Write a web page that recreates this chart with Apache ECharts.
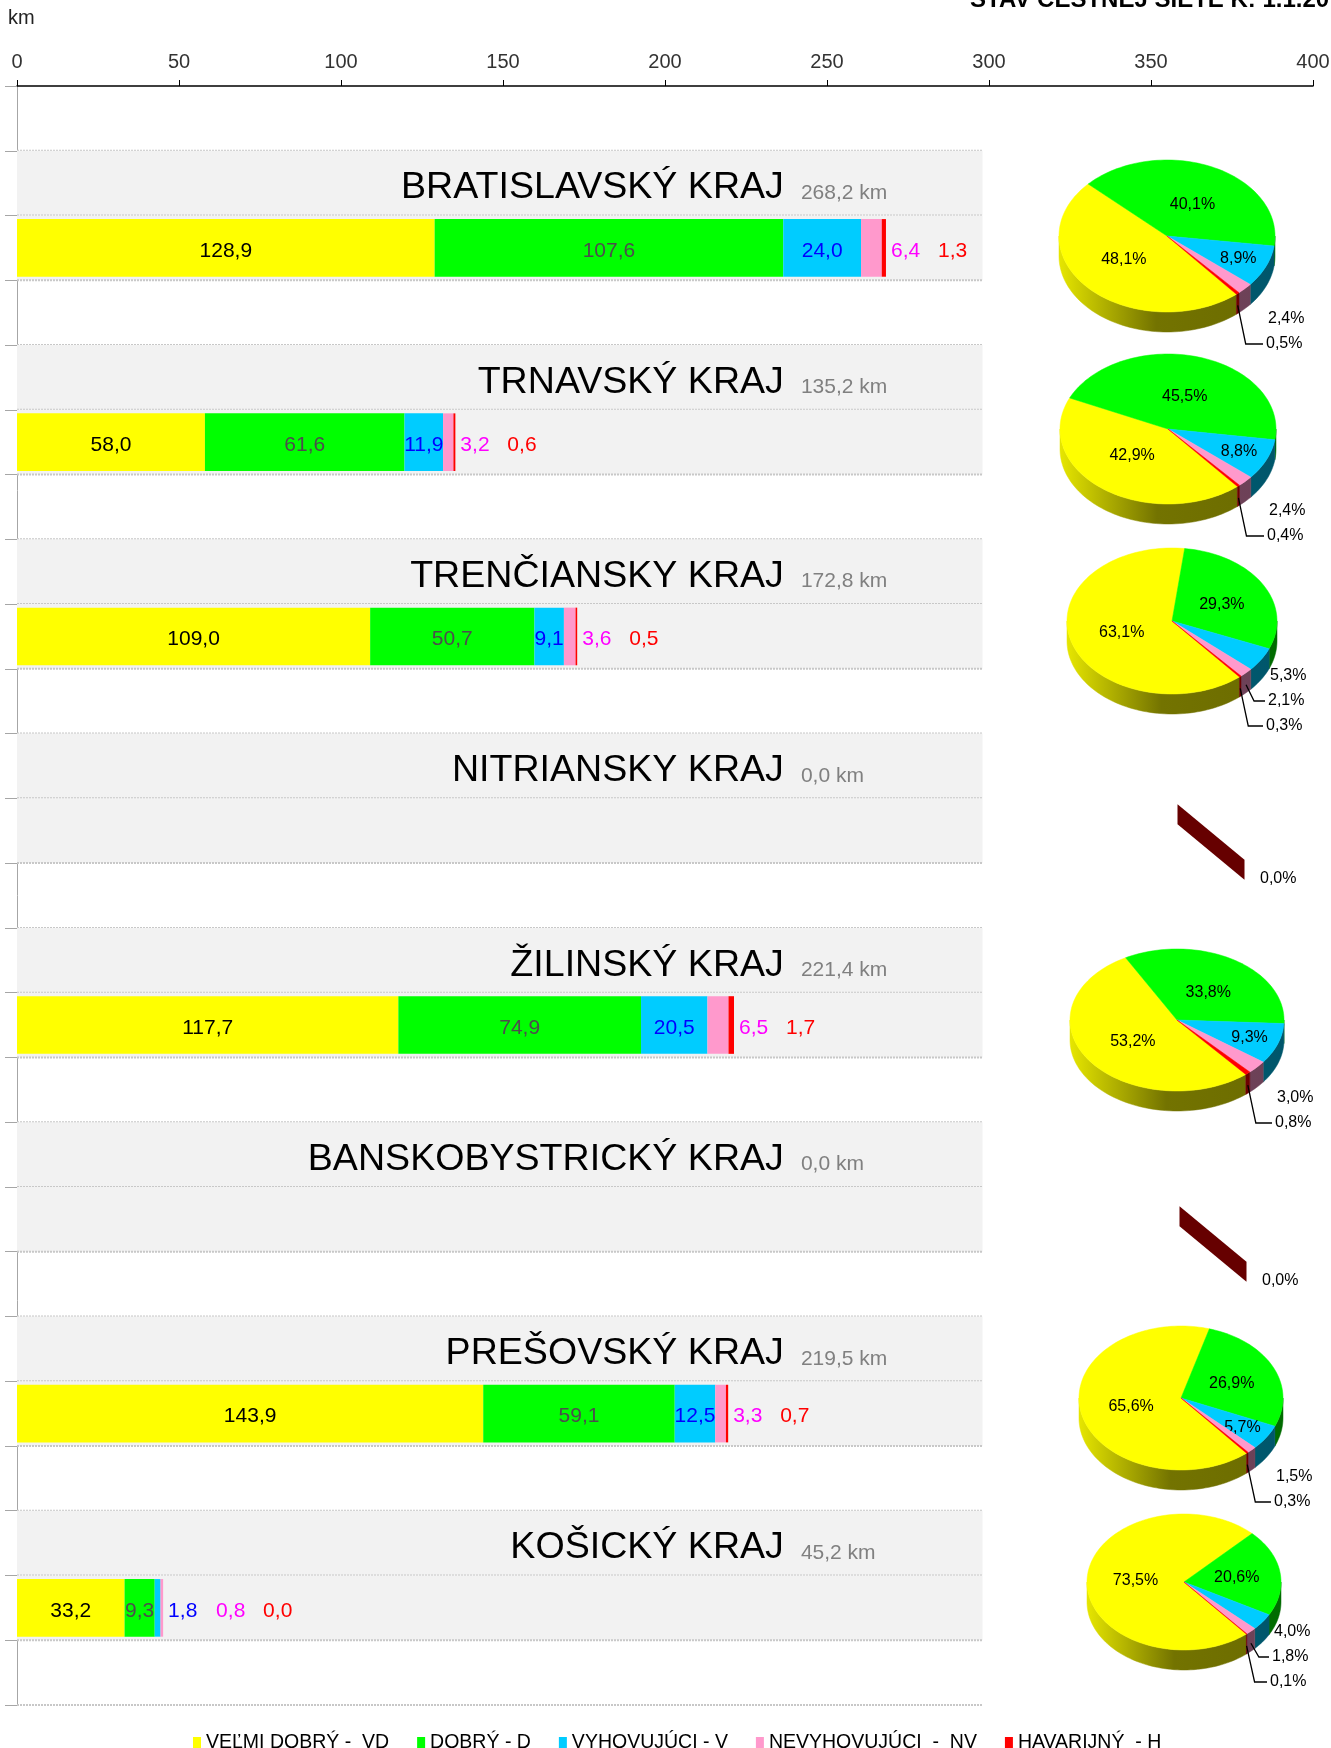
<!DOCTYPE html>
<html>
<head>
<meta charset="utf-8">
<title>Stav cestnej siete</title>
<script src="https://cdn.jsdelivr.net/npm/echarts@6/dist/echarts.min.js"></script>
<style>
  html, body { margin: 0; padding: 0; background: #fff; }
  #chart { width: 1331px; height: 1748px; }
</style>
</head>
<body>
<div id="chart"></div>
<script>
(() => {
    const FONT = '"Liberation Sans", Arial, sans-serif';

    // --- data ---
    const REGIONS = ['BRATISLAVSKÝ KRAJ', 'TRNAVSKÝ KRAJ', 'TRENČIANSKY KRAJ', 'NITRIANSKY KRAJ',
                     'ŽILINSKÝ KRAJ', 'BANSKOBYSTRICKÝ KRAJ', 'PREŠOVSKÝ KRAJ', 'KOŠICKÝ KRAJ'];
    const TOTAL_KM = [268.2, 135.2, 172.8, 0.0, 221.4, 0.0, 219.5, 45.2];
    const VD = [128.9, 58.0, 109.0, 0.0, 117.7, 0.0, 143.9, 33.2];
    const D  = [107.6, 61.6, 50.7, 0.0, 74.9, 0.0, 59.1, 9.3];
    const V  = [24.0, 11.9, 9.1, 0.0, 20.5, 0.0, 12.5, 1.8];
    const NV = [6.4, 3.2, 3.6, 0.0, 6.5, 0.0, 3.3, 0.8];
    const H  = [1.3, 0.6, 0.5, 0.0, 1.7, 0.0, 0.7, 0.0];

    // pie percentages as labelled
    const PCT_VD = [48.1, 42.9, 63.1, 0.0, 53.2, 0.0, 65.6, 73.5];
    const PCT_D  = [40.1, 45.5, 29.3, 0.0, 33.8, 0.0, 26.9, 20.6];
    const PCT_V  = [8.9, 8.8, 5.3, 0.0, 9.3, 0.0, 5.7, 4.0];
    const PCT_NV = [2.4, 2.4, 2.1, 0.0, 3.0, 0.0, 1.5, 1.8];
    const PCT_H  = [0.5, 0.4, 0.3, 0.0, 0.8, 0.0, 0.3, 0.1];

    const SERIES_NAMES = ['VEĽMI DOBRÝ -  VD', 'DOBRÝ - D', 'VYHOVUJÚCI - V', 'NEVYHOVUJÚCI  -  NV', 'HAVARIJNÝ  - H'];
    const COLORS = ['#ffff00', '#00ff00', '#00ccff', '#ff99cc', '#ff0000'];

    const X_MIN = 0, X_MAX = 400, X_STEP = 50;
    const BAND_MAX = 298;      // grey bands stop just short of 300 km
    const TITLE_X = 236.7;     // right edge of region names, in km units

    // --- layout of the 3D pies (pixels) ---
    const PIE_CX = [1167, 1168, 1172, 1211, 1177, 1213, 1181, 1184];
    const PIE_CY = [236, 429, 621, 842, 1020, 1244, 1398, 1582];
    const PIE_RX = [108, 108, 105, 108, 107, 108, 102, 97];
    const PIE_RY = [76, 75, 73, 75, 71, 75, 72, 68];
    const DEPTH = 20;
    const START_ANGLE = 50;    // clockwise from 3 o'clock

    // rows: 0 blank, then per region title / bar / blank
    const ROW_COUNT = 1 + REGIONS.length * 3;
    const rowNames = [];
    const rowKind = [];
    for (let r = 0; r < ROW_COUNT; r++) {
        const k = r === 0 ? 0 : ((r - 1) % 3 === 0 ? 1 : ((r - 1) % 3 === 1 ? 2 : 0));
        rowKind.push(k);
        rowNames.push('r' + r);
    }
    const titleRow = i => 1 + i * 3;
    const regionOfBarRow = r => (r - 2) / 3;

    const fmt = v => v.toFixed(1).replace('.', ',');

    const toRows = arr => rowNames.map((_, r) => rowKind[r] === 2 ? arr[regionOfBarRow(r)] : '-');

    const pctOf = i => [PCT_VD[i], PCT_D[i], PCT_V[i], PCT_NV[i], PCT_H[i]];

    function sliceAngles(i) {
        const vals = pctOf(i);
        const sum = vals.reduce((a, b) => a + b, 0);
        let a = START_ANGLE;
        return vals.map(v => {
            const a0 = a;
            a += sum ? v / sum * 360 : 0;
            return [a0, a];
        });
    }

    function pt(i, deg, dy) {
        const a = deg * Math.PI / 180;
        return [PIE_CX[i] + PIE_RX[i] * Math.cos(a), PIE_CY[i] + PIE_RY[i] * Math.sin(a) + dy];
    }

    function arc(i, a0, a1, dy) {
        const pts = [];
        const steps = Math.max(1, Math.ceil((a1 - a0) / 2));
        for (let s = 0; s <= steps; s++) pts.push(pt(i, a0 + (a1 - a0) * s / steps, dy));
        return pts;
    }

    function shade(hex, f) {
        const n = parseInt(hex.slice(1), 16);
        const r = (n >> 16) & 255, g = (n >> 8) & 255, b = n & 255;
        return 'rgb(' + Math.round(r * f) + ',' + Math.round(g * f) + ',' + Math.round(b * f) + ')';
    }

    // --- custom renderers ---
    function renderBands(params, api) {
        const row = api.value(1);
        const kind = api.value(2);
        const l = api.coord([0, row]);
        const r = api.coord([BAND_MAX, row]);
        const h = api.size([0, 1])[1];
        const top = l[1] - h / 2, bottom = l[1] + h / 2;
        const children = [];
        if (kind > 0) {
            children.push({ type: 'rect', shape: { x: l[0], y: top, width: r[0] - l[0], height: h },
                            style: { fill: '#f2f2f2' } });
        }
        children.push({ type: 'line', shape: { x1: l[0], y1: bottom, x2: r[0], y2: bottom },
                        style: { stroke: '#c8c8c8', lineWidth: 2, lineDash: [2, 1] } });
        return { type: 'group', children };
    }

    function renderTitles(params, api) {
        const row = api.value(1);
        const i = (row - 1) / 3;
        const p = api.coord([TITLE_X, row]);
        return {
            type: 'group',
            children: [
                { type: 'text', x: p[0], y: p[1] + 5,
                  style: { text: REGIONS[i], fontSize: 37.6, fontFamily: FONT, fill: '#000',
                           align: 'right', verticalAlign: 'middle' } },
                { type: 'text', x: p[0] + 17, y: p[1] + 10,
                  style: { text: fmt(TOTAL_KM[i]) + ' km', fontSize: 21, fontFamily: FONT, fill: '#808080',
                           align: 'left', verticalAlign: 'middle' } }
            ]
        };
    }

    function renderPieSides(params, api) {
        const i = api.value(0), k = api.value(1);
        const children = [];
        if (TOTAL_KM[i] === 0) {
            if (k === 0) {
                // empty pie: Excel leaves a single dark wall
                const cx = PIE_CX[i], cy = PIE_CY[i];
                const hx = PIE_RX[i] * 0.31, hy = PIE_RY[i] * 0.37;
                children.push({ type: 'polygon',
                    shape: { points: [[cx - hx, cy - hy - DEPTH / 2], [cx + hx, cy + hy - DEPTH / 2],
                                      [cx + hx, cy + hy + DEPTH / 2], [cx - hx, cy - hy + DEPTH / 2]] },
                    style: { fill: '#660000' } });
            }
            return { type: 'group', children };
        }
        const [a0, a1] = sliceAngles(i)[k];
        [[0, 180], [360, 540]].forEach(([v0, v1]) => {
            const s = Math.max(a0, v0), e = Math.min(a1, v1);
            if (e > s) {
                const top = arc(i, s, e, 0);
                const bot = arc(i, s, e, DEPTH).reverse();
                const grad = new echarts.graphic.LinearGradient(
                    PIE_CX[i] - PIE_RX[i], 0, PIE_CX[i] + PIE_RX[i], 0,
                    [{ offset: 0, color: shade(COLORS[k], 0.9) },
                     { offset: 0.45, color: shade(COLORS[k], 0.45) },
                     { offset: 1, color: shade(COLORS[k], 0.42) }], true);
                children.push({ type: 'polygon', shape: { points: top.concat(bot) },
                                style: { fill: grad, stroke: grad, lineWidth: 0.5 } });
            }
        });
        return { type: 'group', children };
    }

    function renderPieTops(params, api) {
        const i = api.value(0), k = api.value(1);
        const children = [];
        const cx = PIE_CX[i], cy = PIE_CY[i];
        if (TOTAL_KM[i] === 0) {
            if (k === 0) {
                children.push({ type: 'text', x: cx + 49, y: cy + 37,
                    style: { text: fmt(0) + '%', fontSize: 16, fontFamily: FONT, fill: '#000',
                             align: 'left', verticalAlign: 'middle' } });
            }
            return { type: 'group', children };
        }
        const angles = sliceAngles(i);
        const pcts = pctOf(i);
        const [a0, a1] = angles[k];
        if (a1 > a0) {
            children.push({ type: 'polygon', shape: { points: [[cx, cy]].concat(arc(i, a0, a1, 0)) },
                            style: { fill: COLORS[k], stroke: COLORS[k], lineWidth: 0.5 } });
        }
        const mid = (a0 + a1) / 2;
        if (pcts[k] >= 5.5) {
            let fx = 0.55, fy = 0.45;
            if (pcts[k] < 15) { fx = 0.72; fy = 0.75; }
            else if (pcts[k] > 50) { fx = 0.5; fy = 0.55; }
            const p = [cx + PIE_RX[i] * fx * Math.cos(mid * Math.PI / 180),
                       cy + PIE_RY[i] * fy * Math.sin(mid * Math.PI / 180)];
            children.push({ type: 'text', x: p[0], y: p[1],
                style: { text: fmt(pcts[k]) + '%', fontSize: 16, fontFamily: FONT, fill: '#000',
                         align: 'center', verticalAlign: 'middle' } });
        } else {
            const outs = [];
            pcts.forEach((v, j) => { if (v < 5.5) outs.push(j); });
            const n = outs.length, pos = outs.indexOf(k);
            const y = cy + PIE_RY[i] + 32 - 25 * (n - 1 - pos);
            const xl = cx + PIE_RX[i] - 7 - 2 * pos;
            children.push({ type: 'text', x: xl, y: y,
                style: { text: fmt(pcts[k]) + '%', fontSize: 16, fontFamily: FONT, fill: '#000',
                         align: 'left', verticalAlign: 'middle' } });
            if (pos > 0) {
                const e = pt(i, mid, DEPTH * 0.6);
                children.push({ type: 'polyline',
                    shape: { points: [e, [e[0] + 8, y], [xl - 3, y]] },
                    style: { stroke: '#000', lineWidth: 1.3, fill: null } });
            }
        }
        return { type: 'group', children };
    }

    // --- series ---
    const bandData = rowNames.map((_, r) => [0, r, rowKind[r]]);
    const titleData = REGIONS.map((_, i) => [0, titleRow(i)]);
    const pieData = [];
    REGIONS.forEach((_, i) => COLORS.forEach((_, k) => pieData.push([i, k])));

    const valueFormatter = p => (typeof p.value === 'number' && p.value > 0) ? fmt(p.value) : '';

    const barLabel = (color) => ({
        show: true, position: 'inside', color: color, fontSize: 21, fontFamily: FONT,
        offset: [0, 3], formatter: valueFormatter
    });

    const series = [
        { type: 'custom', name: 'bands', renderItem: renderBands, data: bandData, z: 1, silent: true,
          encode: { x: 0, y: 1 } },
        { type: 'bar', name: SERIES_NAMES[0], stack: 'km', data: toRows(VD), barWidth: '89%', z: 3,
          itemStyle: { color: COLORS[0] }, label: barLabel('#000') },
        { type: 'bar', name: SERIES_NAMES[1], stack: 'km', data: toRows(D), barWidth: '89%', z: 3,
          itemStyle: { color: COLORS[1] }, label: barLabel('#4d4d4d') },
        { type: 'bar', name: SERIES_NAMES[2], stack: 'km', data: toRows(V), barWidth: '89%', z: 3,
          itemStyle: { color: COLORS[2] },
          label: Object.assign(barLabel('#0000ff'), {
              formatter: p => (typeof p.value === 'number' && p.value >= 5) ? fmt(p.value) : ''
          }) },
        { type: 'bar', name: SERIES_NAMES[3], stack: 'km', data: toRows(NV), barWidth: '89%', z: 3,
          itemStyle: { color: COLORS[3] } },
        { type: 'bar', name: SERIES_NAMES[4], stack: 'km', data: toRows(H), barWidth: '89%', z: 3,
          itemStyle: { color: COLORS[4] },
          label: {
              show: true, position: 'right', distance: 5, offset: [0, 3], fontSize: 21, fontFamily: FONT,
              formatter: p => {
                  const i = regionOfBarRow(p.dataIndex);
                  if (!TOTAL_KM[i]) return '';
                  let s = '';
                  if (V[i] < 5) s += '{v|' + fmt(V[i]) + '}';
                  return s + '{nv|' + fmt(NV[i]) + '}{h|' + fmt(H[i]) + '}';
              },
              rich: {
                  v: { color: '#0000ff', fontSize: 21, fontFamily: FONT, width: 48 },
                  nv: { color: '#ff00ff', fontSize: 21, fontFamily: FONT, width: 47 },
                  h: { color: '#ff0000', fontSize: 21, fontFamily: FONT }
              }
          } },
        { type: 'custom', name: 'titles', renderItem: renderTitles, data: titleData, z: 4, silent: true,
          encode: { x: 0, y: 1 } },
        { type: 'custom', name: 'pieSides', coordinateSystem: 'none', renderItem: renderPieSides,
          data: pieData, z: 5, silent: true },
        { type: 'custom', name: 'pieTops', coordinateSystem: 'none', renderItem: renderPieTops,
          data: pieData, z: 6, silent: true }
    ];

    const chart = echarts.init(document.getElementById('chart'), null, { renderer: 'canvas' });
    chart.setOption({
        animation: false,
        backgroundColor: '#ffffff',
        textStyle: { fontFamily: FONT },
        grid: { left: 17, right: 18, top: 86, bottom: 43, containLabel: false, outerBoundsMode: 'none' },
        graphic: [
            { type: 'text', left: 8, top: 8,
              style: { text: 'km', fontSize: 20, fontFamily: FONT, fill: '#222' } },
            { type: 'text', x: 970, y: 12,
              style: { text: 'STAV CESTNEJ SIETE K: 1.1.20', fontSize: 24, fontWeight: 'bold',
                       fontFamily: FONT, fill: '#000', align: 'left', verticalAlign: 'bottom' } }
        ],
        legend: {
            data: SERIES_NAMES,
            left: 188, top: 1728,
            icon: 'rect', itemWidth: 8, itemHeight: 12, itemGap: 28,
            selectedMode: false,
            textStyle: { fontSize: 19.5, fontFamily: FONT, color: '#000' }
        },
        xAxis: {
            type: 'value', position: 'top',
            min: X_MIN, max: X_MAX, interval: X_STEP,
            axisLine: { show: true, lineStyle: { color: '#000', width: 1.5 } },
            axisTick: { show: true, length: 6, lineStyle: { color: '#000' } },
            axisLabel: { fontSize: 20, color: '#333', margin: 14, fontFamily: FONT },
            splitLine: { show: false }
        },
        yAxis: {
            type: 'category', data: rowNames, inverse: true,
            axisLine: { show: true, lineStyle: { color: '#a6a6a6', width: 1 } },
            axisTick: { show: true, length: 12, lineStyle: { color: '#a6a6a6' } },
            axisLabel: { show: false },
            splitLine: { show: false }
        },
        series
    });
})();
</script>
</body>
</html>
